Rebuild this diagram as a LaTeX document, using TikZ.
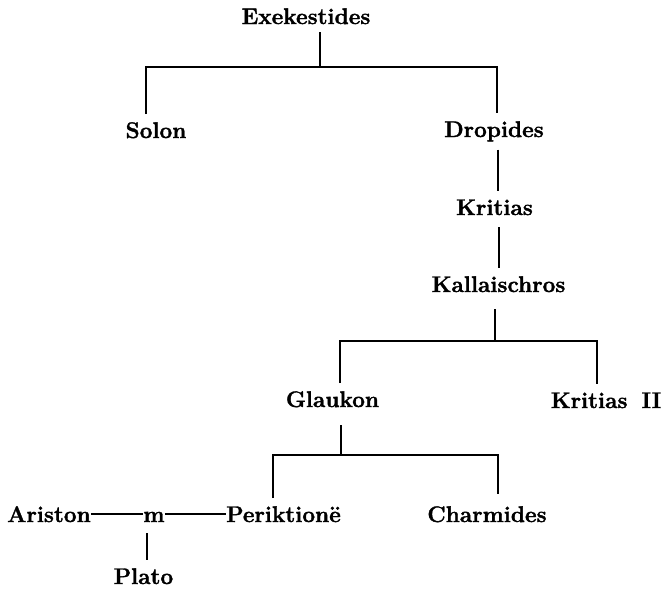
\documentclass[tikz,border=0pt]{standalone}
\usepackage{fontspec}
\setmainfont{Latin Modern Roman}[BoldFeatures={FakeBold=1.5}]
\begin{document}
\begin{tikzpicture}[x=1pt,y=-1pt,
  person/.style={anchor=base, inner xsep=0pt, inner ysep=8pt,
    font=\fontsize{22.6}{27}\selectfont\bfseries},
  link/.style={line width=2pt},
  marriage/.style={line width=1.5pt}]
\useasboundingbox (0,0) rectangle (664,590);
% people
\node[person] (exe)   at (306,24)    {Exekestides};
\node[person] (solon) at (156,138)   {Solon};
\node[person] (drop)  at (494,137)   {Dropides};
\node[person] (krit)  at (494.5,215) {Kritias};
\node[person] (kal)   at (498.5,292) {Kallaischros};
\node[person] (glau)  at (332.5,407) {Glaukon};
\node[person] (krit2) at (606,408)   {Kritias\hspace{14pt}II};
\node[person] (ari)   at (49,522)    {Ariston};
\node[person] (m)     at (154,522)   {m};
\node[person] (peri)  at (283.5,522) {Periktionë};
\node[person] (charm) at (487,522)   {Charmides};
\node[person] (plato) at (143.5,584) {Plato};
% junctions
\coordinate (j1m) at (320,67);
\coordinate (j1l) at (146,67);
\coordinate (j1r) at (497,67);
\coordinate (v1) at (498,0);
\coordinate (v2) at (499,0);
\coordinate (j2m) at (495,341);
\coordinate (j2l) at (340,341);
\coordinate (j2r) at (597,341);
\coordinate (j3m) at (341,455);
\coordinate (j3l) at (273,455);
\coordinate (j3r) at (498,455);
\coordinate (v3) at (147,0);
% connectors
\draw[link] (exe.south -| j1m) -- (j1m);
\draw[link] (solon.north -| j1l) -- (j1l) -- (j1r) -- (drop.north -| j1r);
\draw[link] (drop.south -| v1) -- (krit.north -| v1);
\draw[link,shorten <=4pt] (krit.south -| v2) -- (kal.north -| v2);
\draw[link,shorten <=9pt] (kal.south -| j2m) -- (j2m);
\draw[link] (glau.north -| j2l) -- (j2l) -- (j2r) -- (krit2.north -| j2r);
\draw[link,shorten <=10pt] (glau.south -| j3m) -- (j3m);
\draw[link,shorten >=4pt] (peri.north -| j3l) -- (j3l) -- (j3r) -- (charm.north -| j3r);
\draw[marriage] ([yshift=8pt]ari.base east) -- ([yshift=8pt]m.base west);
\draw[marriage] ([yshift=8pt]m.base east) -- ([yshift=8pt]peri.base west);
\draw[link,shorten <=3pt] (m.south -| v3) -- (plato.north -| v3);
\end{tikzpicture}
\end{document}
